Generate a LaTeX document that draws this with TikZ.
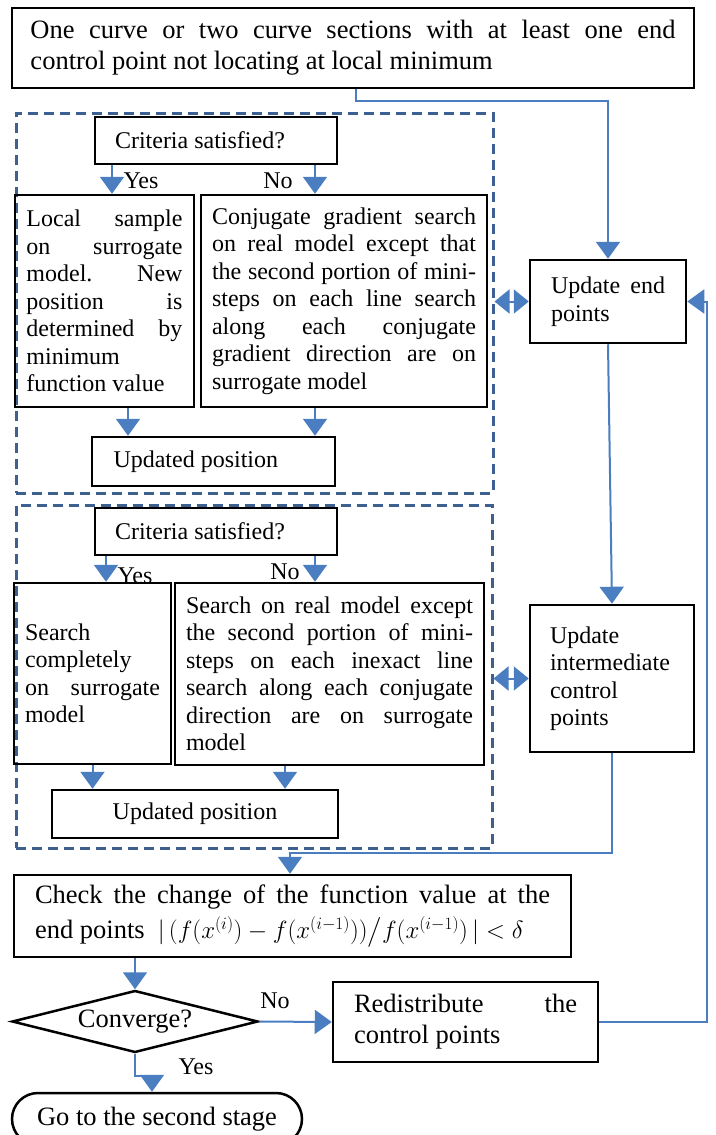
\documentclass[tikz,border=0pt]{standalone}
\usepackage{fontspec}
\setmainfont{Liberation Serif}
\usepackage{amsmath}
\usetikzlibrary{arrows.meta,shapes.geometric}
\definecolor{arrblue}{RGB}{74,126,193}
\definecolor{dashblue}{RGB}{62,96,145}

\begin{document}
\begin{tikzpicture}[x=1pt,y=-1pt,
	box/.style={draw=black, line width=2.5pt, rectangle, inner sep=0pt, align=justify, font=\fontsize{24}{27.5}\selectfont},
	bigbox/.style={box, font=\fontsize{26.5}{31}\selectfont},
	grp/.style={draw=dashblue, line width=3pt, dash pattern=on 10pt off 6pt, rectangle, inner sep=0pt},
	arr/.style={draw=arrblue, line width=2pt, -{Triangle[width=24pt,length=17pt]}},
	dbl/.style={draw=arrblue, line width=2pt, {Triangle[width=24pt,length=15pt]}-{Triangle[width=24pt,length=15pt]}},
	lbl/.style={font=\fontsize{24}{27.5}\selectfont, inner sep=0pt}]
	\useasboundingbox (0,0) rectangle (715,1135);
	\node[grp, minimum width=477pt, minimum height=380pt] (grp1) at (254.5,303) {};
	\node[grp, minimum width=476pt, minimum height=343pt] (grp2) at (254,676.5) {};
	\node[bigbox, minimum width=682pt, minimum height=80pt, text width=645pt] (top) at (353,48) {One curve or two curve sections with at least one end\linebreak control point not locating at local minimum};
	\node[box, minimum width=242pt, minimum height=47pt, text width=202pt] (crit1) at (216,140.5) {Criteria satisfied?};
	\node[box, minimum width=179pt, minimum height=212pt, text width=156pt] (local) at (104.5,301) {Local sample\linebreak on surrogate\linebreak model. New\linebreak position is\linebreak determined by\linebreak minimum\linebreak function value};
	\node[box, minimum width=286pt, minimum height=212pt, text width=264pt] (conj) at (344,301) {Conjugate gradient search\linebreak on real model except that\linebreak the second portion of mini-\linebreak steps on each line search\linebreak along each conjugate\linebreak gradient direction are on\linebreak surrogate model};
	\node[box, minimum width=243pt, minimum height=49pt, text width=200pt] (upd1) at (213.5,461.5) {Updated position};
	\node[box, minimum width=242pt, minimum height=47pt, text width=202pt] (crit2) at (216,531.5) {Criteria satisfied?};
	\node[box, minimum width=157pt, minimum height=181pt, text width=135pt] (searchc) at (92.5,673.5) {Search\linebreak completely\linebreak on surrogate\linebreak model};
	\node[box, minimum width=309pt, minimum height=182pt, text width=287pt] (searchr) at (329.5,674) {Search on real model except\linebreak the second portion of mini-\linebreak steps on each inexact line\linebreak search along each conjugate\linebreak direction are on surrogate\linebreak model};
	\node[box, minimum width=286pt, minimum height=48pt, align=center] (upd2) at (195,814) {Updated position};
	\node[box, minimum width=156pt, minimum height=83pt, text width=114pt] (endpts) at (608,301.5) {Update end\linebreak points};
	\node[box, minimum width=164pt, minimum height=147pt, text width=124pt, align=left] (interm) at (612,678.5) {Update\\intermediate\\control\\points};
	\node[bigbox, minimum width=557pt, minimum height=82pt, text width=515pt, font=\fontsize{26.5}{35}\selectfont] (check) at (292.5,916) {Check the change of the function value at the\linebreak end points \ $|\,(f(x^{(i)})-f(x^{(i-1)}))\big/ f(x^{(i-1)})\,|<\delta$};
	\node[diamond, aspect=4, draw=black, line width=2.5pt, minimum width=246pt, minimum height=62pt, inner sep=0pt, font=\fontsize{26.5}{30}\selectfont] (conv) at (135,1021.5) {Converge?};
	\node[bigbox, minimum width=265pt, minimum height=80pt, text width=223pt] (redis) at (465.5,1022) {Redistribute the\linebreak control points};
	\node[draw=black, line width=2.5pt, rectangle, rounded corners=26pt, minimum width=290pt, minimum height=52pt, font=\fontsize{26.5}{30}\selectfont] (goto) at (157,1119) {Go to the second stage};
	\draw[arr] ([xshift=3pt]top.south) -- ++(0,12) -| (endpts.north);
	\draw[arr] ([xshift=-104pt]crit1.south) -- ([xshift=7.5pt]local.north);
	\draw[arr] ([xshift=99pt]crit1.south) -- ([xshift=-29pt]conj.north);
	\draw[arr] ([xshift=23.5pt]local.south) -- ([xshift=-85.5pt]upd1.north);
	\draw[arr] ([xshift=-29pt]conj.south) -- ([xshift=101.5pt]upd1.north);
	\draw[arr] ([xshift=-110pt]crit2.south) -- ([xshift=13.5pt]searchc.north);
	\draw[arr] ([xshift=99pt]crit2.south) -- ([xshift=-14.5pt]searchr.north);
	\draw[arr] (searchc.south) -- ([xshift=-102.5pt]upd2.north);
	\draw[arr] ([xshift=-44.5pt]searchr.south) -- ([xshift=90pt]upd2.north);
	\draw[arr] (endpts.south) -- (interm.north);
	\draw[dbl] (grp1.east |- endpts.west) -- (endpts.west);
	\draw[dbl] (grp2.east |- interm.west) -- (interm.west);
	\draw[arr] (interm.south) -- ++(0,100) -| ([xshift=-2.5pt]check.north);
	\draw[arr] (check.south -| conv.north) -- (conv.north);
	\draw[arr] (conv.east) -- (redis.west);
	\draw[arr] (redis.east) -- ++(108,0) |- (endpts.east);
	\draw[arr] (conv.south) -- ++(0,22) -| ([xshift=-5pt]goto.north);
	\node[lbl] (yes1) at (141,181) {Yes};
	\node[lbl] (no1) at (278,181) {No};
	\node[lbl] (yes2) at (135,576) {Yes};
	\node[lbl] (no2) at (285,572) {No};
	\node[lbl] (no3) at (275,1001) {No};
	\node[lbl] (yes3) at (196,1067) {Yes};
\end{tikzpicture}
\end{document}
